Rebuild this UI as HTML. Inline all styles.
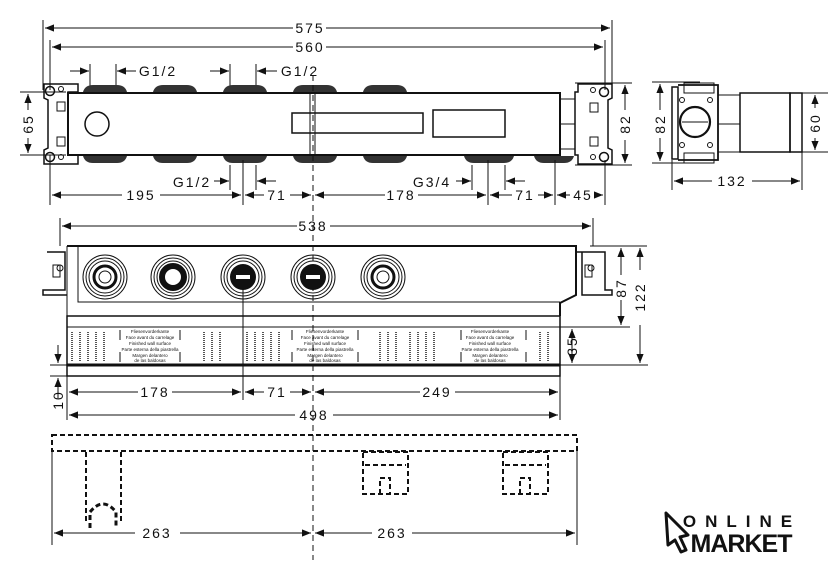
<!DOCTYPE html>
<html><head><style>
html,body{margin:0;padding:0;background:#fff}
svg{display:block}
text{font-family:"Liberation Sans",sans-serif;fill:#111;letter-spacing:2px}
</style></head><body>
<svg width="840" height="567" viewBox="0 0 840 567" xmlns="http://www.w3.org/2000/svg">
<defs>
<marker id="a" viewBox="0 0 10 10" refX="10" refY="5" markerWidth="9" markerHeight="9" orient="auto-start-reverse" markerUnits="userSpaceOnUse"><path d="M0,1 L10,5 L0,9z" fill="#111"/></marker>
</defs>
<g stroke="#111" fill="none" stroke-width="1">
<!-- ===== TOP VIEW ===== -->
<line x1="43" y1="20" x2="43" y2="90"/><line x1="612" y1="20" x2="612" y2="90"/>
<line x1="50" y1="40" x2="50" y2="90"/><line x1="605" y1="40" x2="605" y2="90"/>
<line x1="45" y1="28" x2="293" y2="28" marker-start="url(#a)"/><line x1="326" y1="28" x2="610" y2="28" marker-end="url(#a)"/>
<line x1="52" y1="47" x2="293" y2="47" marker-start="url(#a)"/><line x1="326" y1="47" x2="603" y2="47" marker-end="url(#a)"/>
<!-- G1/2 top -->
<line x1="70" y1="71" x2="89" y2="71" marker-end="url(#a)"/><line x1="90" y1="64" x2="90" y2="88"/>
<line x1="136" y1="71" x2="117" y2="71" marker-end="url(#a)"/><line x1="116" y1="64" x2="116" y2="88"/>
<line x1="210" y1="71" x2="229" y2="71" marker-end="url(#a)"/><line x1="230" y1="64" x2="230" y2="88"/>
<line x1="277" y1="71" x2="257" y2="71" marker-end="url(#a)"/><line x1="256" y1="64" x2="256" y2="88"/>
<!-- brackets left -->
<path d="M44,84 H78 V92 H68 V155 H78 V164 H44 V150 L48,148 V100 L44,98Z" stroke-width="1.5"/>
<circle cx="50" cy="91" r="4.5" stroke-width="1.5"/><circle cx="61" cy="89" r="2.5"/>
<circle cx="50" cy="157" r="4.5" stroke-width="1.5"/><circle cx="61" cy="157" r="2.5"/>
<rect x="57" y="102" width="8" height="9"/><rect x="57" y="137" width="8" height="9"/>
<!-- right bracket -->
<path d="M578,84 H612 V98 L608,100 V148 L612,150 V164 H578 V155 H575 V92 H578Z" stroke-width="1.5"/>
<circle cx="604" cy="92" r="4.5" stroke-width="1.5"/><circle cx="593" cy="90" r="2.5"/>
<circle cx="604" cy="157" r="4.5" stroke-width="1.5"/><circle cx="593" cy="157" r="2.5"/>
<rect x="590" y="103" width="8" height="9"/><rect x="590" y="137" width="8" height="9"/>
<!-- body -->
<rect x="68" y="93" width="492" height="62" stroke-width="2"/>
<rect x="560" y="99" width="15" height="50"/><line x1="560" y1="124" x2="575" y2="124"/>
<rect x="292" y="113" width="131" height="20" stroke-width="1.5"/>
<rect x="433" y="110" width="72" height="27" stroke-width="1.5"/>
<circle cx="97" cy="124" r="12" stroke-width="1.5"/>
<rect x="310" y="93" width="5" height="62"/>
</g>
<g fill="#333">
<path d="M83,92 q2,-7 10,-7 h24 q8,0 10,7z"/><path d="M153,92 q2,-7 10,-7 h24 q8,0 10,7z"/><path d="M223,92 q2,-7 10,-7 h24 q8,0 10,7z"/><path d="M293,92 q2,-7 10,-7 h24 q8,0 10,7z"/><path d="M363,92 q2,-7 10,-7 h24 q8,0 10,7z"/>
<path d="M83,156 q2,7 10,7 h24 q8,0 10,-7z"/><path d="M153,156 q2,7 10,7 h24 q8,0 10,-7z"/><path d="M223,156 q2,7 10,7 h24 q8,0 10,-7z"/><path d="M293,156 q2,7 10,7 h24 q8,0 10,-7z"/><path d="M363,156 q2,7 10,7 h24 q8,0 10,-7z"/>
<path d="M464,156 q2,7 10,7 h30 q8,0 10,-7z"/><path d="M534,156 q2,7 10,7 h20 q8,0 10,-7z"/>
</g>
<g stroke="#111" fill="none" stroke-width="1">
<line x1="313" y1="75" x2="313" y2="560" stroke-dasharray="6,4"/>
<!-- 65 -->
<line x1="20" y1="92" x2="66" y2="92"/><line x1="20" y1="155" x2="66" y2="155"/>
<line x1="28" y1="110" x2="28" y2="94" marker-end="url(#a)"/><line x1="28" y1="138" x2="28" y2="153" marker-end="url(#a)"/>
<!-- bottom dims top view -->
<line x1="50" y1="155" x2="50" y2="205"/><line x1="243" y1="160" x2="243" y2="205"/><line x1="230" y1="165" x2="230" y2="190"/><line x1="256" y1="165" x2="256" y2="190"/>
<line x1="472" y1="165" x2="472" y2="190"/><line x1="505" y1="165" x2="505" y2="190"/><line x1="488" y1="160" x2="488" y2="205"/><line x1="555" y1="160" x2="555" y2="205"/><line x1="605" y1="160" x2="605" y2="205"/>
<line x1="214" y1="181" x2="229" y2="181" marker-end="url(#a)"/><line x1="276" y1="181" x2="257" y2="181" marker-end="url(#a)"/>
<line x1="456" y1="181" x2="471" y2="181" marker-end="url(#a)"/><line x1="525" y1="181" x2="506" y2="181" marker-end="url(#a)"/>
<line x1="52" y1="195" x2="122" y2="195" marker-start="url(#a)"/><line x1="160" y1="195" x2="241" y2="195" marker-end="url(#a)"/>
<line x1="245" y1="195" x2="264" y2="195" marker-start="url(#a)"/><line x1="290" y1="195" x2="311" y2="195" marker-end="url(#a)"/>
<line x1="315" y1="195" x2="385" y2="195" marker-start="url(#a)"/><line x1="418" y1="195" x2="486" y2="195" marker-end="url(#a)"/>
<line x1="490" y1="195" x2="512" y2="195" marker-start="url(#a)"/><line x1="538" y1="195" x2="553" y2="195" marker-end="url(#a)"/>
<line x1="557" y1="195" x2="570" y2="195" marker-start="url(#a)"/><line x1="596" y1="195" x2="603" y2="195" marker-end="url(#a)"/>
<!-- 82 right -->
<line x1="575" y1="83" x2="632" y2="83"/><line x1="575" y1="165" x2="632" y2="165"/>
<line x1="625" y1="110" x2="625" y2="85" marker-end="url(#a)"/><line x1="625" y1="140" x2="625" y2="163" marker-end="url(#a)"/>
<!-- side view -->
<line x1="652" y1="82" x2="700" y2="82"/><line x1="652" y1="163" x2="700" y2="163"/>
<line x1="660" y1="110" x2="660" y2="84" marker-end="url(#a)"/><line x1="660" y1="138" x2="660" y2="161" marker-end="url(#a)"/>
<rect x="672" y="87" width="6" height="72" stroke-width="1.5"/>
<path d="M678,85 H718 V160 H678" stroke-width="1.8"/>
<rect x="684" y="83" width="30" height="10"/><rect x="684" y="153" width="30" height="10"/>
<circle cx="695" cy="122" r="15" stroke-width="2.2"/><line x1="682" y1="122" x2="708" y2="122"/>
<circle cx="682" cy="100" r="2.5"/><circle cx="710" cy="100" r="2.5"/><circle cx="682" cy="145" r="2.5"/><circle cx="710" cy="145" r="2.5"/>
<rect x="718" y="95" width="22" height="57"/><line x1="718" y1="124" x2="740" y2="124"/>
<rect x="740" y="93" width="50" height="59" stroke-width="1.5"/>
<rect x="790" y="93" width="12" height="59" stroke-width="1.5"/>
<line x1="802" y1="93" x2="828" y2="93"/><line x1="802" y1="152" x2="828" y2="152"/>
<line x1="815" y1="108" x2="815" y2="95" marker-end="url(#a)"/><line x1="815" y1="138" x2="815" y2="150" marker-end="url(#a)"/>
<line x1="672" y1="160" x2="672" y2="190"/><line x1="802" y1="152" x2="802" y2="190"/>
<line x1="674" y1="181" x2="712" y2="181" marker-start="url(#a)"/><line x1="752" y1="181" x2="800" y2="181" marker-end="url(#a)"/>
<!-- ===== FRONT VIEW ===== -->
<line x1="60" y1="218" x2="60" y2="246"/><line x1="593" y1="218" x2="593" y2="246"/>
<line x1="62" y1="226" x2="297" y2="226" marker-start="url(#a)"/><line x1="330" y1="226" x2="591" y2="226" marker-end="url(#a)"/>
<path d="M67,246 H576 V295 L560,303 V316" stroke-width="2"/>
<path d="M78,246 V302 H560"/>
<path d="M67,246 V377"/>
<rect x="67" y="316" width="493" height="49" stroke-width="1.5"/>
<line x1="67" y1="327" x2="560" y2="327"/>
<line x1="67" y1="365" x2="560" y2="365" stroke-width="3"/>
<rect x="67" y="365" width="493" height="11" stroke-width="1.5"/>
<!-- brackets -->
<path d="M47,252 H65 V290 H43 V295 H67" stroke-width="1.5"/><rect x="53" y="265" width="7" height="12"/><circle cx="60" cy="268" r="3"/>
<path d="M576,252 H605 V290 H612 V295 H582 V252" stroke-width="1.5"/><rect x="585" y="265" width="7" height="12"/><circle cx="591" cy="268" r="3"/>
<!-- dims -->
<line x1="590" y1="246" x2="628" y2="246"/><line x1="590" y1="246" x2="647" y2="246"/>
<line x1="560" y1="327" x2="630" y2="327"/><line x1="560" y1="365" x2="648" y2="365"/>
<line x1="621" y1="275" x2="621" y2="248" marker-end="url(#a)"/><line x1="621" y1="300" x2="621" y2="325" marker-end="url(#a)"/>
<line x1="640" y1="270" x2="640" y2="248" marker-end="url(#a)"/><line x1="640" y1="325" x2="640" y2="363" marker-end="url(#a)"/>
<line x1="572" y1="329" x2="572" y2="363" marker-start="url(#a)" marker-end="url(#a)"/>
<line x1="50" y1="365" x2="67" y2="365"/><line x1="50" y1="376" x2="67" y2="376"/>
<line x1="58" y1="345" x2="58" y2="363" marker-end="url(#a)"/><line x1="58" y1="398" x2="58" y2="378" marker-end="url(#a)"/>
<line x1="243" y1="277" x2="243" y2="400"/><line x1="560" y1="376" x2="560" y2="420"/><line x1="67" y1="376" x2="67" y2="420"/>
<line x1="69" y1="392" x2="138" y2="392" marker-start="url(#a)"/><line x1="172" y1="392" x2="241" y2="392" marker-end="url(#a)"/>
<line x1="245" y1="392" x2="264" y2="392" marker-start="url(#a)"/><line x1="290" y1="392" x2="311" y2="392" marker-end="url(#a)"/>
<line x1="315" y1="392" x2="420" y2="392" marker-start="url(#a)"/><line x1="455" y1="392" x2="558" y2="392" marker-end="url(#a)"/>
<line x1="69" y1="415" x2="295" y2="415" marker-start="url(#a)"/><line x1="333" y1="415" x2="558" y2="415" marker-end="url(#a)"/>
<!-- circles -->
<g stroke-width="1">
<circle cx="105" cy="277" r="22"/><circle cx="105" cy="277" r="19"/><circle cx="105" cy="277" r="16"/><circle cx="105" cy="277" r="11" stroke-width="3"/><circle cx="105" cy="277" r="6"/>
<circle cx="173" cy="277" r="22"/><circle cx="173" cy="277" r="19"/><circle cx="173" cy="277" r="16"/><circle cx="173" cy="277" r="11" stroke-width="6"/>
<circle cx="243" cy="277" r="22"/><circle cx="243" cy="277" r="19"/><circle cx="243" cy="277" r="16"/>
<circle cx="313" cy="277" r="22"/><circle cx="313" cy="277" r="19"/><circle cx="313" cy="277" r="16"/>
<circle cx="383" cy="277" r="22"/><circle cx="383" cy="277" r="19"/><circle cx="383" cy="277" r="16"/><circle cx="383" cy="277" r="11" stroke-width="3"/><circle cx="383" cy="277" r="6"/>
</g>
</g>
<circle cx="243" cy="277" r="13" fill="#111"/><rect x="236" y="275" width="14" height="4" fill="#fff"/>
<circle cx="313" cy="277" r="13" fill="#111"/><rect x="306" y="275" width="14" height="4" fill="#fff"/>
<!-- label strip text -->
<g font-family="Liberation Sans,sans-serif" font-size="4.5" fill="#333" text-anchor="middle" letter-spacing="0">
<text x="150" y="333" style="font-size:4.5px;letter-spacing:0">Fliesenvorderkante</text><text x="150" y="339" style="font-size:4.5px;letter-spacing:0">Face avant du carrelage</text><text x="150" y="345" style="font-size:4.5px;letter-spacing:0">Finished wall surface</text><text x="150" y="351" style="font-size:4.5px;letter-spacing:0">Parte esterna della piastrella</text><text x="150" y="357" style="font-size:4.5px;letter-spacing:0">Margen delantero</text><text x="150" y="362" style="font-size:4.5px;letter-spacing:0">de las baldosas</text>
<text x="325" y="333" style="font-size:4.5px;letter-spacing:0">Fliesenvorderkante</text><text x="325" y="339" style="font-size:4.5px;letter-spacing:0">Face avant du carrelage</text><text x="325" y="345" style="font-size:4.5px;letter-spacing:0">Finished wall surface</text><text x="325" y="351" style="font-size:4.5px;letter-spacing:0">Parte esterna della piastrella</text><text x="325" y="357" style="font-size:4.5px;letter-spacing:0">Margen delantero</text><text x="325" y="362" style="font-size:4.5px;letter-spacing:0">de las baldosas</text>
<text x="490" y="333" style="font-size:4.5px;letter-spacing:0">Fliesenvorderkante</text><text x="490" y="339" style="font-size:4.5px;letter-spacing:0">Face avant du carrelage</text><text x="490" y="345" style="font-size:4.5px;letter-spacing:0">Finished wall surface</text><text x="490" y="351" style="font-size:4.5px;letter-spacing:0">Parte esterna della piastrella</text><text x="490" y="357" style="font-size:4.5px;letter-spacing:0">Margen delantero</text><text x="490" y="362" style="font-size:4.5px;letter-spacing:0">de las baldosas</text>
</g>
<g stroke="#555" stroke-width="2" stroke-dasharray="1,1">
<line x1="72" y1="332" x2="72" y2="362"/><line x1="80" y1="332" x2="80" y2="362"/><line x1="88" y1="332" x2="88" y2="362"/><line x1="96" y1="332" x2="96" y2="362"/><line x1="104" y1="332" x2="104" y2="362"/>
<line x1="204" y1="332" x2="204" y2="362"/><line x1="212" y1="332" x2="212" y2="362"/><line x1="220" y1="332" x2="220" y2="362"/>
<line x1="247" y1="332" x2="247" y2="362"/><line x1="255" y1="332" x2="255" y2="362"/><line x1="263" y1="332" x2="263" y2="362"/><line x1="271" y1="332" x2="271" y2="362"/><line x1="279" y1="332" x2="279" y2="362"/>
<line x1="380" y1="332" x2="380" y2="362"/><line x1="388" y1="332" x2="388" y2="362"/><line x1="396" y1="332" x2="396" y2="362"/>
<line x1="410" y1="332" x2="410" y2="362"/><line x1="418" y1="332" x2="418" y2="362"/><line x1="426" y1="332" x2="426" y2="362"/><line x1="434" y1="332" x2="434" y2="362"/>
<line x1="540" y1="332" x2="540" y2="362"/><line x1="548" y1="332" x2="548" y2="362"/>
</g>
<g stroke="#111" stroke-width="1">
<line x1="120" y1="330" x2="120" y2="340"/><line x1="120" y1="352" x2="120" y2="362"/><line x1="180" y1="330" x2="180" y2="340"/><line x1="180" y1="352" x2="180" y2="362"/>
<line x1="292" y1="330" x2="292" y2="340"/><line x1="292" y1="352" x2="292" y2="362"/><line x1="358" y1="330" x2="358" y2="340"/><line x1="358" y1="352" x2="358" y2="362"/>
<line x1="461" y1="330" x2="461" y2="340"/><line x1="461" y1="352" x2="461" y2="362"/><line x1="526" y1="330" x2="526" y2="340"/><line x1="526" y1="352" x2="526" y2="362"/>
</g>
<!-- ===== BOTTOM VIEW ===== -->
<g stroke="#111" fill="none" stroke-width="2" stroke-dasharray="5,3">
<rect x="52" y="435" width="525" height="16"/>
<path d="M86,452 V522 M121,452 V522"/>
<path d="M90,528 V512 Q103,496 116,512 V528" stroke-width="3"/>
<rect x="363" y="452" width="45" height="42"/><line x1="365" y1="465" x2="406" y2="465"/><path d="M380,494 V478 H390 V494"/>
<rect x="503" y="452" width="45" height="42"/><line x1="505" y1="465" x2="546" y2="465"/><path d="M520,494 V478 H530 V494"/>
</g>
<g stroke="#111" fill="none" stroke-width="1">
<line x1="52" y1="451" x2="52" y2="545"/><line x1="577" y1="451" x2="577" y2="545"/>
<line x1="54" y1="533" x2="135" y2="533" marker-start="url(#a)"/><line x1="180" y1="533" x2="311" y2="533" marker-end="url(#a)"/>
<line x1="315" y1="533" x2="372" y2="533" marker-start="url(#a)"/><line x1="412" y1="533" x2="575" y2="533" marker-end="url(#a)"/>
</g>
<!-- ===== TEXT ===== -->
<g font-size="14" text-anchor="middle">
<text x="310" y="33">575</text><text x="310" y="52">560</text>
<text x="158" y="76">G1/2</text><text x="300" y="76">G1/2</text>
<text x="192" y="187">G1/2</text><text x="432" y="187">G3/4</text>
<text x="141" y="200">195</text><text x="277" y="200">71</text><text x="401" y="200">178</text><text x="525" y="200">71</text><text x="583" y="200">45</text>
<text x="732" y="186">132</text>
<text x="313" y="231">538</text>
<text x="155" y="397">178</text><text x="277" y="397">71</text><text x="437" y="397">249</text>
<text x="314" y="420">498</text>
<text x="157" y="538">263</text><text x="392" y="538">263</text>
<text transform="translate(33,124) rotate(-90)">65</text>
<text transform="translate(630,124) rotate(-90)">82</text>
<text transform="translate(665,124) rotate(-90)">82</text>
<text transform="translate(820,123) rotate(-90)">60</text>
<text transform="translate(626,288) rotate(-90)">87</text>
<text transform="translate(645,297) rotate(-90)">122</text>
<text transform="translate(577,346) rotate(-90)">35</text>
<text transform="translate(63,400) rotate(-90)">10</text>
</g>
<!-- logo -->
<path d="M666,513 L688,535 L680,537 L686,550 L681,552 L675,540 L668,545Z" fill="#fff" stroke="#111" stroke-width="3" stroke-linejoin="round"/>
<text x="742" y="527" text-anchor="middle" style="font-size:17px;font-weight:bold;letter-spacing:9px">ONLINE</text>
<text x="741" y="552" text-anchor="middle" style="font-size:25px;font-weight:900;letter-spacing:-1px">MARKET</text>
</svg>
</body></html>
